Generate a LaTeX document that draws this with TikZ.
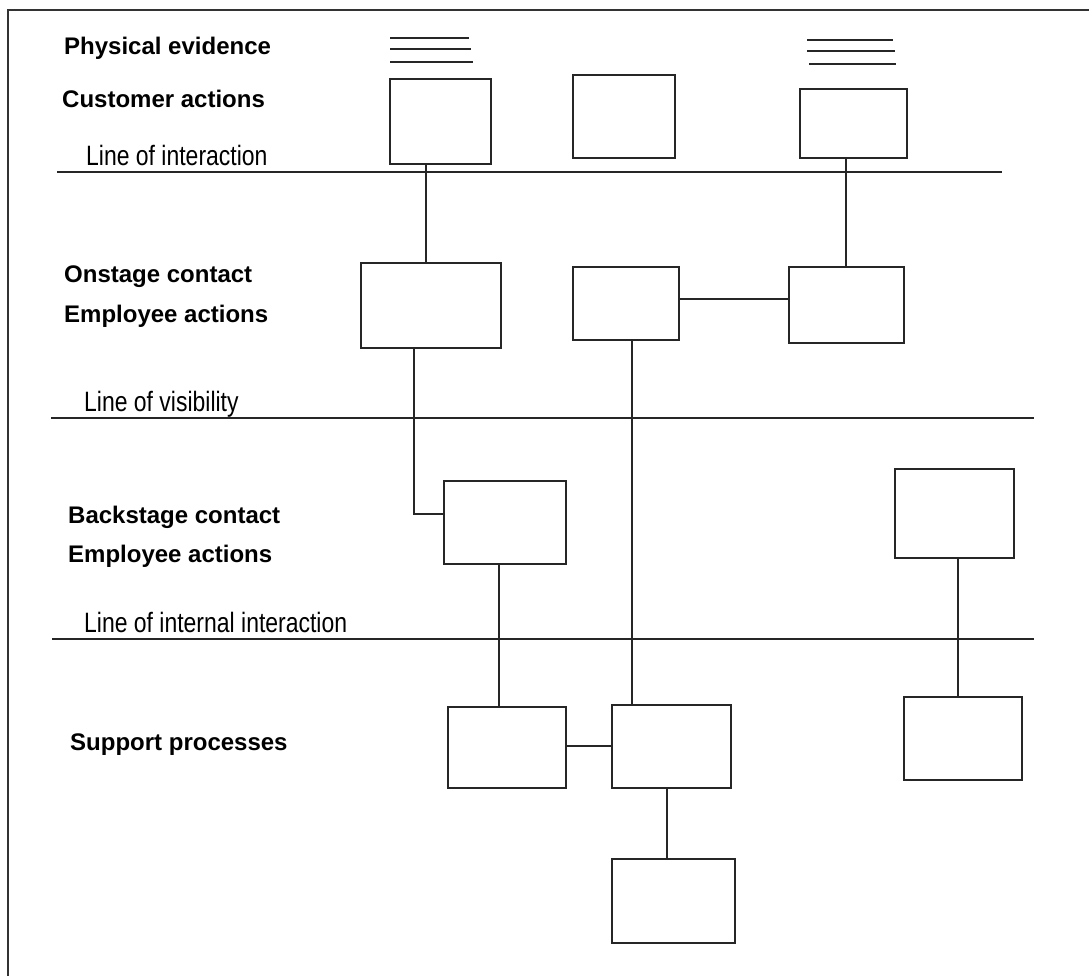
\documentclass[tikz,border=0pt]{standalone}
\usepackage{fontspec}
\setmainfont{Liberation Sans}
\newfontfamily\narrowfont[FakeStretch=0.82]{Liberation Sans}
\begin{document}
\begin{tikzpicture}[x=1pt,y=-1pt,
  blk/.style={draw=black!85, line width=2pt, inner sep=0pt, fill=white},
  link/.style={draw=black!85, line width=1.8pt},
  divider/.style={draw=black!85, line width=1.8pt},
  lane/.style={anchor=base west, inner sep=0pt, font=\fontsize{24}{28}\selectfont\bfseries},
  linelabel/.style={anchor=base west, inner sep=0pt, font=\fontsize{28}{32}\selectfont\narrowfont}]
\useasboundingbox (0,0) rectangle (1089,976);

% frame
\coordinate (fbl) at (8,980);
\coordinate (ftl) at (8,10);
\coordinate (ftr) at (1093,10);
\draw[line width=2.2pt, black!80] (fbl) -- (ftl) -- (ftr);

% lane titles
\node[lane] (tpe)  at (64,55)  {Physical evidence};
\node[lane] (tca)  at (62,108) {Customer actions};
\node[lane] (ton1) at (64,283) {Onstage contact};
\node[lane] (ton2) at (64,322) {Employee actions};
\node[lane] (tbk1) at (68,523) {Backstage contact};
\node[lane] (tbk2) at (68,562) {Employee actions};
\node[lane] (tsp)  at (70,750) {Support processes};

% separating lines
\coordinate (li1) at (57,172);   \coordinate (li2) at (1002,172);
\coordinate (lv1) at (51,418);   \coordinate (lv2) at (1034,418);
\coordinate (lii1) at (52,639);  \coordinate (lii2) at (1034,639);
\draw[divider] (li1) -- (li2);
\draw[divider] (lv1) -- (lv2);
\draw[divider] (lii1) -- (lii2);
\node[linelabel] (lbi)  at (86,166) {Line of interaction};
\node[linelabel] (lbv)  at (84,411) {Line of visibility};
\node[linelabel] (lbii) at (84,632) {Line of internal interaction};

% physical evidence marks
\coordinate (pa1) at (390,38); \coordinate (pa2) at (469,38);
\coordinate (pb1) at (390,49); \coordinate (pb2) at (471,49);
\coordinate (pc1) at (390,62); \coordinate (pc2) at (473,62);
\coordinate (qa1) at (807,40); \coordinate (qa2) at (893,40);
\coordinate (qb1) at (807,51); \coordinate (qb2) at (895,51);
\coordinate (qc1) at (809,64); \coordinate (qc2) at (896,64);
\draw[link] (pa1) -- (pa2) (pb1) -- (pb2) (pc1) -- (pc2);
\draw[link] (qa1) -- (qa2) (qb1) -- (qb2) (qc1) -- (qc2);

% customer actions
\node[blk, minimum width=101pt, minimum height=85pt] (c1) at (440.5,121.5) {};
\node[blk, minimum width=102pt, minimum height=83pt] (c2) at (624,116.5) {};
\node[blk, minimum width=107pt, minimum height=69pt] (c3) at (853.5,123.5) {};

% onstage actions
\node[blk, minimum width=140pt, minimum height=85pt] (o1) at (431,305.5) {};
\node[blk, minimum width=106pt, minimum height=73pt] (o2) at (626,303.5) {};
\node[blk, minimum width=115pt, minimum height=76pt] (o3) at (846.5,305) {};

% backstage actions
\node[blk, minimum width=122pt, minimum height=83pt] (b1) at (505,522.5) {};
\node[blk, minimum width=119pt, minimum height=89pt] (b2) at (954.5,513.5) {};

% support processes
\node[blk, minimum width=118pt, minimum height=81pt] (s1) at (507,747.5) {};
\node[blk, minimum width=119pt, minimum height=83pt] (s2) at (671.5,746.5) {};
\node[blk, minimum width=118pt, minimum height=83pt] (s3) at (963,738.5) {};
\node[blk, minimum width=123pt, minimum height=84pt] (s4) at (673.5,901) {};

% connector guides
\coordinate (xc1) at (426,0);
\coordinate (xc3) at (846,0);
\coordinate (xo1) at (414,0);
\coordinate (yb1) at (0,514);
\coordinate (yo2) at (0,299);
\coordinate (xb1) at (499,0);
\coordinate (xo2) at (632,0);
\coordinate (ys1) at (0,746);
\coordinate (xs2) at (667,0);
\coordinate (xb2) at (958,0);

% connectors
\draw[link] (c1.south -| xc1) -- (o1.north -| xc1);
\draw[link] (c3.south -| xc3) -- (o3.north -| xc3);
\draw[link] (o2.east |- yo2) -- (o3.west |- yo2);
\draw[link] (o1.south -| xo1) |- (b1.west |- yb1);
\draw[link] (b1.south -| xb1) -- (s1.north -| xb1);
\draw[link] (o2.south -| xo2) -- (s2.north -| xo2);
\draw[link] (s1.east |- ys1) -- (s2.west |- ys1);
\draw[link] (s2.south -| xs2) -- (s4.north -| xs2);
\draw[link] (b2.south -| xb2) -- (s3.north -| xb2);
\end{tikzpicture}
\end{document}
